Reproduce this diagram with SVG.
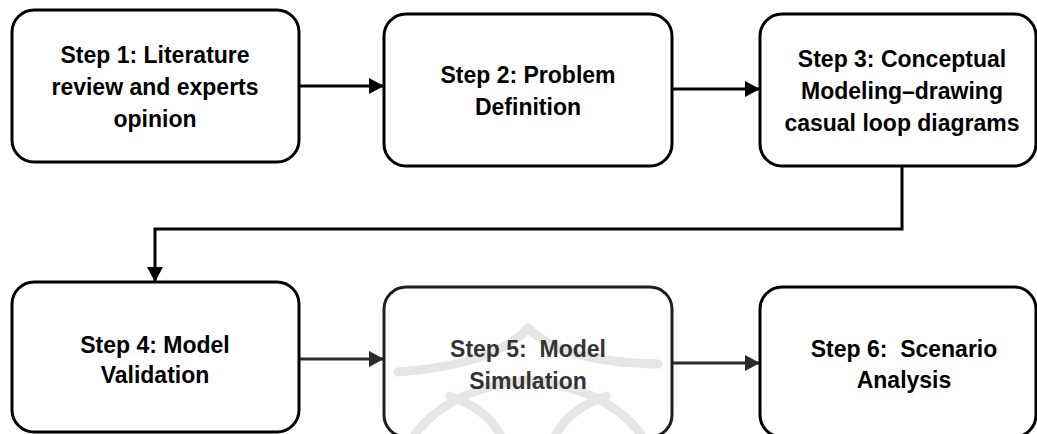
<svg xmlns="http://www.w3.org/2000/svg" width="1037" height="434" viewBox="0 0 1037 434">
<style>
.box{fill:#fff;stroke:#000;stroke-width:3}
.box.g{stroke:#1e1e1e;fill:none}
.t{font-family:"Liberation Sans",Arial,sans-serif;font-weight:bold;font-size:23px;text-anchor:middle;fill:#000}
.t.g{fill:#333}
.c{fill:none;stroke:#000;stroke-width:3}
.c.g{stroke:#2a2a2a}
.wm{fill:none;stroke:#e6e6e6;stroke-width:9;stroke-linecap:round}
</style>
<defs>
<marker id="ah" markerUnits="userSpaceOnUse" markerWidth="15" markerHeight="16" refX="15" refY="8" orient="auto">
<path d="M0,0 L15,8 L0,16 z" fill="#000"/>
</marker>
<marker id="ahg" markerUnits="userSpaceOnUse" markerWidth="15" markerHeight="16" refX="15" refY="8" orient="auto">
<path d="M0,0 L15,8 L0,16 z" fill="#2a2a2a"/>
</marker>
</defs>
<rect width="1037" height="434" fill="#fff"/>
<g id="watermark">
<path class="wm" d="M398,372 Q495,365 528,328"/>
<path class="wm" d="M658,364 Q561,362 528,328"/>
<path class="wm" d="M415,434 Q450,388 528,380"/>
<path class="wm" d="M641,434 Q606,388 528,380"/>
<path class="wm" d="M500,434 Q485,408 450,396"/>
<path class="wm" d="M556,434 Q571,408 606,396"/>
</g>
<g id="connectors">
<line class="c" x1="299" y1="86" x2="384" y2="86" marker-end="url(#ah)"/>
<line class="c" x1="672" y1="89" x2="760" y2="89" marker-end="url(#ah)"/>
<polyline class="c" points="902,166 902,229 155,229 155,282" marker-end="url(#ah)"/>
<line class="c g" x1="299" y1="359" x2="384" y2="359" marker-end="url(#ahg)"/>
<line class="c g" x1="672" y1="363" x2="760" y2="363" marker-end="url(#ahg)"/>
</g>
<g id="step1">
<rect class="box" x="12" y="10" width="287" height="152" rx="22"/>
<text class="t" x="155" y="63">Step 1: Literature</text>
<text class="t" x="155" y="95">review and experts</text>
<text class="t" x="155" y="127">opinion</text>
</g>
<g id="step2">
<rect class="box" x="384" y="14" width="288" height="152" rx="22"/>
<text class="t" x="528" y="83">Step 2: Problem</text>
<text class="t" x="528" y="115">Definition</text>
</g>
<g id="step3">
<rect class="box" x="760" y="14" width="276" height="152" rx="22"/>
<text class="t" x="902" y="67">Step 3: Conceptual</text>
<text class="t" x="902" y="99">Modeling–drawing</text>
<text class="t" x="902" y="131">casual loop diagrams</text>
</g>
<g id="step4">
<rect class="box" x="12" y="282" width="287" height="150" rx="22"/>
<text class="t" x="155" y="353">Step 4: Model</text>
<text class="t" x="155" y="383">Validation</text>
</g>
<g id="step5">
<rect class="box g" x="384" y="287" width="288" height="150" rx="22"/>
<text class="t g" x="528" y="357" xml:space="preserve">Step 5:  Model</text>
<text class="t g" x="528" y="389">Simulation</text>
</g>
<g id="step6">
<rect class="box" x="760" y="287" width="276" height="150" rx="22"/>
<text class="t" x="904" y="357" fill="#111" xml:space="preserve">Step 6:  Scenario</text>
<text class="t" x="904" y="388">Analysis</text>
</g>
</svg>
